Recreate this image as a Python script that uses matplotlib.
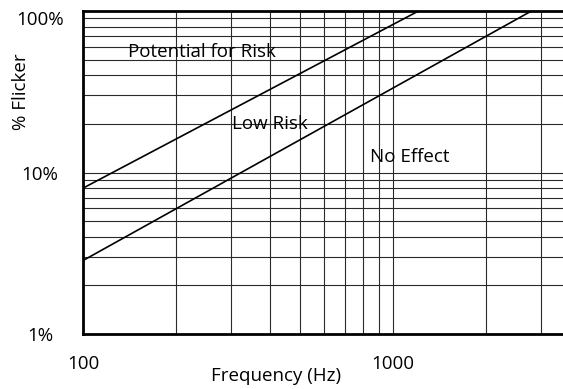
import matplotlib
matplotlib.use('Agg')
import matplotlib.pyplot as plt
import matplotlib.transforms as mtransforms

plt.rcParams['font.family'] = ['Open Sans', 'DejaVu Sans']

# boundary lines (frequency in Hz, % flicker)
risk_freq = [100, 1210]
risk_flicker = [8.0, 100]
effect_freq = [100, 2800]
effect_flicker = [2.85, 100]

# region labels: (text, freq, flicker)
regions = [('Potential for Risk', 140, 55.7),
           ('Low Risk', 303, 20.0),
           ('No Effect', 846, 12.5)]

xticks = [100, 1000]
xticklabels = ['100', '1000']
yticks = [1, 10, 100]
yticklabels = ['1%', '10%', '100%']
xgrid = [200, 300, 400, 500, 600, 700, 800, 900, 1000, 2000, 3000]
ygrid = [2, 3, 4, 5, 6, 7, 8, 9, 10, 20, 30, 40, 50, 60, 70, 80, 90]

fs = 13.5

fig = plt.figure(figsize=(5.63, 3.89), dpi=100)
ax = fig.add_axes([83/563, 1-334/389, 480/563, 323/389])
ax.set_xscale('log')
ax.set_yscale('log')
ax.set_xlim(100, 3540)
ax.set_ylim(1, 100)

for g in xgrid:
    ax.axvline(g, color='#2a2a2a', lw=0.8, zorder=1)
for g in ygrid:
    ax.axhline(g, color='#2a2a2a', lw=0.8, zorder=1)

ax.plot(risk_freq, risk_flicker, color='black', lw=1.2, zorder=3)
ax.plot(effect_freq, effect_flicker, color='black', lw=1.2, zorder=3)

for txt, fx, fy in regions:
    ax.text(fx, fy, txt, fontsize=fs, ha='left', va='center', zorder=4)

ax.set_xticks(xticks)
ax.set_xticklabels(xticklabels, fontsize=fs)
ax.set_yticks(yticks)
ax.set_yticklabels(yticklabels, fontsize=fs)
ax.minorticks_off()
ax.tick_params(axis='x', length=0, pad=15)
ax.tick_params(axis='y', length=0, pad=31)
for lbl in ax.get_yticklabels():
    lbl.set_horizontalalignment('center')
# top label sits a little below the top spine in the original
top_lbl = ax.get_yticklabels()[-1]
top_lbl.set_transform(top_lbl.get_transform() +
                      mtransforms.ScaledTranslation(0, -5/72, fig.dpi_scale_trans))

for s in ['left', 'bottom', 'top']:
    ax.spines[s].set_linewidth(2)
    ax.spines[s].set_color('black')
ax.spines['right'].set_visible(False)

fig.text(276/563, 1-376/389, 'Frequency (Hz)', fontsize=fs, ha='center', va='center')
fig.text(21/563, 1-92/389, '% Flicker', fontsize=fs, rotation=90, ha='center', va='center')

fig.savefig('out.png', dpi=100)
